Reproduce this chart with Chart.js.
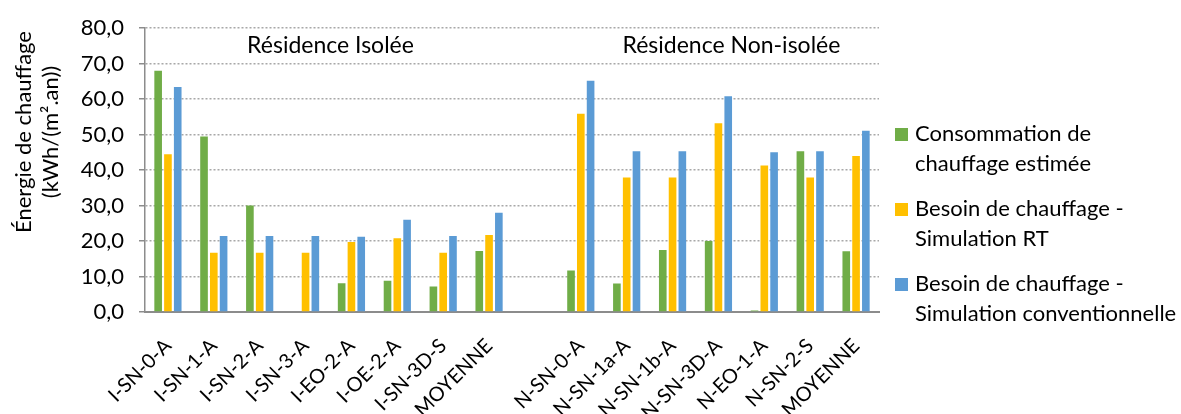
<!DOCTYPE html>
<html><head><meta charset="utf-8">
<script src="https://cdn.jsdelivr.net/npm/chart.js@4"></script>
<style>html,body{margin:0;padding:0;background:#fff}#wrap{width:1181px;height:414px;position:relative}</style>
</head><body><div id="wrap"><canvas id="c" width="1181" height="414"></canvas></div>
<script>
const categories = ['I-SN-0-A','I-SN-1-A','I-SN-2-A','I-SN-3-A','I-EO-2-A','I-OE-2-A','I-SN-3D-S','MOYENNE','',
  'N-SN-0-A','N-SN-1a-A','N-SN-1b-A','N-SN-3D-A','N-EO-1-A','N-SN-2-S','MOYENNE'];
const consommation = [68.0, 49.5, 30.0, null, 8.1, 8.8, 7.2, 17.2, null, 11.7, 8.0, 17.5, 20.0, 0.4, 45.3, 17.1];
const besoinRT     = [44.5, 16.7, 16.7, 16.7, 19.7, 20.8, 16.7, 21.7, null, 55.9, 37.9, 37.9, 53.2, 41.3, 37.9, 44.0];
const besoinConv   = [63.4, 21.4, 21.4, 21.4, 21.2, 26.0, 21.4, 28.0, null, 65.2, 45.3, 45.3, 60.8, 45.0, 45.3, 51.1];
const seriesLabels = ['Consommation de chauffage estimée','Besoin de chauffage - Simulation RT','Besoin de chauffage - Simulation conventionnelle'];
const legendLines = [['Consommation de','chauffage estimée'],['Besoin de chauffage -','Simulation RT'],['Besoin de chauffage -','Simulation conventionnelle']];
const groupLabels = ['Résidence Isolée','Résidence Non-isolée'];
const yTitle = ['Énergie de chauffage','(kWh/(m².an))'];
const colors = ['#70ad47','#ffc000','#5b9bd5'];

const FONT = 'Lato';
Chart.defaults.font.family = FONT;
Chart.defaults.color = '#000';

const overlay = {
  id: 'overlay',
  afterDraw(chart) {
    const ctx = chart.ctx, x = chart.scales.x, y = chart.scales.y;
    ctx.save();
    ctx.fillStyle = '#000';
    ctx.font = '23px ' + FONT;
    ctx.textAlign = 'center';
    ctx.textBaseline = 'middle';
    const yy = y.getPixelForValue(75);
    const c1 = (x.getPixelForValue(0) + x.getPixelForValue(7)) / 2 + 2;
    const c2 = x.getPixelForValue(12) + 13;
    ctx.fillText(groupLabels[0], c1, yy);
    ctx.fillText(groupLabels[1], c2, yy);
    // y axis title
    ctx.save();
    ctx.translate(0, 132);
    ctx.rotate(-Math.PI / 2);
    ctx.font = '22px ' + FONT;
    ctx.fillText(yTitle[0], 0, 24);
    ctx.fillText(yTitle[1], 0, 51);
    ctx.restore();
    // legend
    ctx.textAlign = 'left';
    ctx.font = '22px ' + FONT;
    const lx = 895, ly0 = 134, gap = 75, lh = 30;
    legendLines.forEach((lines, i) => {
      const ty = ly0 + i * gap;
      ctx.fillStyle = colors[i];
      ctx.fillRect(lx, ty - 6, 13, 13);
      ctx.fillStyle = '#000';
      lines.forEach((t, j) => ctx.fillText(t, lx + 20, ty + j * lh));
    });
    ctx.restore();
  }
};

new Chart(document.getElementById('c'), {
  type: 'bar',
  data: {
    labels: categories,
    datasets: [consommation, besoinRT, besoinConv].map((d, i) => ({
      label: seriesLabels[i], data: d, backgroundColor: colors[i],
      barPercentage: 0.78, categoryPercentage: 0.64
    }))
  },
  options: {
    responsive: false, animation: false,
    layout: { padding: { top: 25, right: 302, left: 0, bottom: 0 } },
    plugins: { legend: { display: false }, tooltip: { enabled: false } },
    scales: {
      x: {
        grid: { display: false },
        border: { display: true, color: '#8c8c8c', width: 2 },
        ticks: { minRotation: 45, maxRotation: 45, autoSkip: false, font: { size: 20 }, color: '#000', padding: 14 },
        afterFit(s) { s.height = 102; }
      },
      y: {
        min: 0, max: 80,
        ticks: { stepSize: 10, font: { size: 22 }, color: '#000', padding: 15,
          callback: v => v.toFixed(1).replace('.', ',') },
        grid: { color: '#a8a8a8', lineWidth: 1.5, tickColor: '#8c8c8c', tickBorderDash: [], tickLength: 6 },
        border: { display: true, color: '#8c8c8c', width: 1.5, dash: [2, 2] },
        afterFit(s) { s.width = 145; }
      }
    }
  },
  plugins: [overlay]
});
</script></body></html>
